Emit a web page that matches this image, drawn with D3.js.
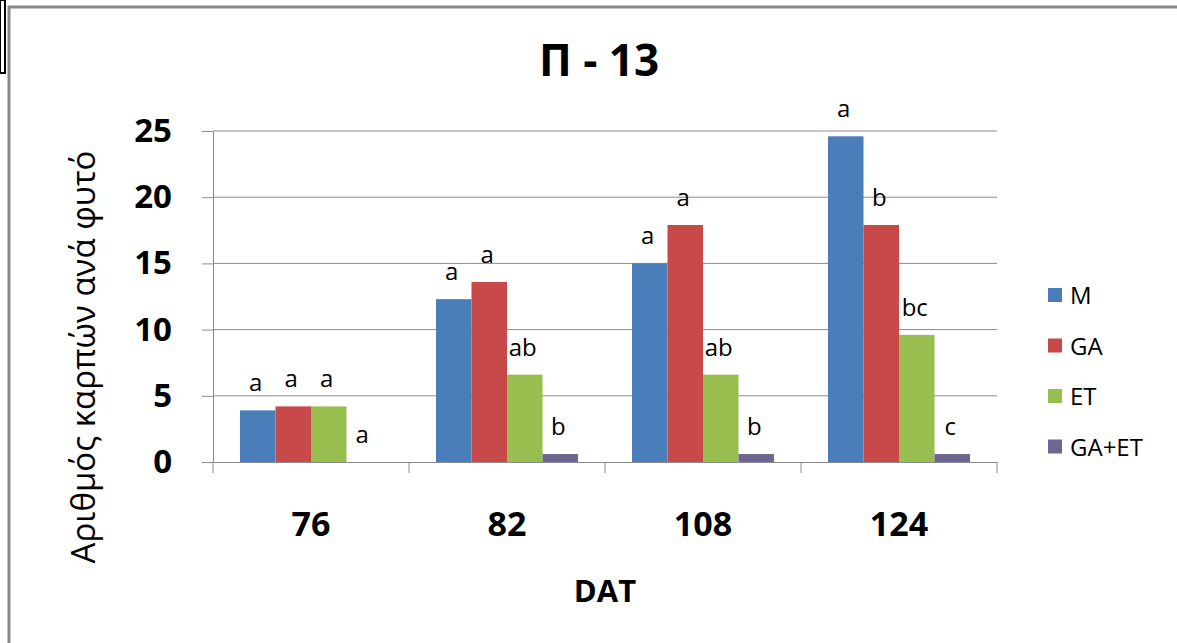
<!DOCTYPE html>
<html>
<head>
<meta charset="utf-8">
<script src="https://cdn.jsdelivr.net/npm/d3@7"></script>
<style>
  body { margin: 0; background: #fff; }
  svg text { font-family: "Open Sans", "DejaVu Sans", sans-serif; fill: #000; }
</style>
</head>
<body>
<div id="chart"></div>
<script>
// data
var days = ["76", "82", "108", "124"];
var series = ["M", "GA", "ET", "GA+ET"];
var valM = [3.9, 12.3, 15.0, 24.6];
var valGA = [4.2, 13.6, 17.9, 17.9];
var valET = [4.2, 6.6, 6.6, 9.6];
var valGAET = [0, 0.6, 0.6, 0.6];
var letM = ["a", "a", "a", "a"];
var letGA = ["a", "a", "a", "b"];
var letET = ["a", "ab", "ab", "bc"];
var letGAET = ["a", "b", "b", "c"];
var yTicks = [0, 5, 10, 15, 20, 25];
var colors = ["#4A7EBB", "#C8494A", "#98BE50", "#6E6690"];

function main() {
    var W = 1177, H = 643;
    var margin = {top: 131, right: 180, bottom: 181, left: 213},
        width = 997 - margin.left,
        height = 462 - margin.top;

    var svg = d3.select("#chart").append("svg")
        .attr("width", W)
        .attr("height", H);

    // outer frame of the chart object
    svg.append("rect")
        .attr("x", 9).attr("y", 7)
        .attr("width", W + 10).attr("height", H + 10)
        .attr("fill", "#fff")
        .attr("stroke", "#8a8a8a")
        .attr("stroke-width", 3);
    // the little black box on the left edge
    svg.append("rect")
        .attr("x", 0).attr("y", 0)
        .attr("width", 5).attr("height", 73)
        .attr("fill", "none")
        .attr("stroke", "#000")
        .attr("stroke-width", 2);

    svg.append("text")
        .attr("x", 599)
        .attr("y", 76)
        .attr("text-anchor", "middle")
        .attr("font-size", "44px")
        .attr("font-weight", "bold")
        .text("Π - 13");

    var g = svg.append("g")
        .attr("transform", "translate(" + margin.left + "," + margin.top + ")");

    var rows = days.map(function (d, i) {
        return {
            day: d,
            vals: [valM[i], valGA[i], valET[i], valGAET[i]],
            lets: [letM[i], letGA[i], letET[i], letGAET[i]]
        };
    });

    var x0 = d3.scaleBand().domain(days).range([0, width]).padding(0);
    var x1 = d3.scaleBand().domain(series).range([0, x0.bandwidth()])
        .paddingInner(0).paddingOuter(0.76);
    var y = d3.scaleLinear().domain([0, 25]).range([height, 0]);

    // gridlines
    g.append("g")
        .selectAll("line")
        .data(yTicks.slice(1))
        .join("line")
        .attr("x1", 0).attr("x2", width)
        .attr("y1", d => y(d)).attr("y2", d => y(d))
        .attr("stroke", "#8c8c8c")
        .attr("stroke-width", 1);

    // y axis
    var yAxis = g.append("g")
        .call(d3.axisLeft(y).tickValues(yTicks).tickSize(11).tickPadding(30));
    yAxis.select(".domain").attr("stroke", "#8c8c8c");
    yAxis.selectAll(".tick line").attr("stroke", "#8c8c8c");
    yAxis.selectAll("text")
        .attr("font-size", "33px")
        .attr("font-weight", "bold")
        .attr("font-family", "Open Sans")
        .attr("fill", "#000");

    // bars
    var groups = g.append("g")
        .selectAll("g")
        .data(rows)
        .join("g")
        .attr("transform", d => "translate(" + x0(d.day) + ",0)");

    groups.selectAll("rect")
        .data(d => d.vals.map((v, j) => ({s: series[j], v: v, j: j})))
        .join("rect")
        .attr("x", d => x1(d.s))
        .attr("width", x1.bandwidth())
        .attr("y", d => y(d.v))
        .attr("height", d => height - y(d.v))
        .attr("fill", d => colors[d.j]);

    groups.selectAll("text")
        .data(d => d.lets.map((l, j) => ({s: series[j], v: d.vals[j], l: l})))
        .join("text")
        .attr("x", d => x1(d.s) + x1.bandwidth() / 2 - 2)
        .attr("y", d => y(d.v) - 19)
        .attr("text-anchor", "middle")
        .attr("font-size", "24px")
        .text(d => d.l);

    // x axis
    var xAxis = g.append("g")
        .attr("transform", "translate(0," + height + ")")
        .call(d3.axisBottom(x0).tickSize(0).tickPadding(50));
    xAxis.select(".domain").attr("stroke", "#8c8c8c");
    xAxis.selectAll("text")
        .attr("font-size", "34px")
        .attr("font-weight", "bold")
        .attr("font-family", "Open Sans")
        .attr("fill", "#000");
    // category separators
    xAxis.append("g")
        .selectAll("line")
        .data(d3.range(days.length + 1))
        .join("line")
        .attr("x1", i => i * x0.step()).attr("x2", i => i * x0.step())
        .attr("y1", 0).attr("y2", 11)
        .attr("stroke", "#8c8c8c");

    svg.append("text")
        .attr("x", 605)
        .attr("y", 602)
        .attr("text-anchor", "middle")
        .attr("font-size", "31px")
        .attr("font-weight", "bold")
        .text("DAT");

    svg.append("text")
        .attr("transform", "translate(95,357) rotate(-90)")
        .attr("text-anchor", "middle")
        .attr("font-size", "33px")
        .text("Αριθμός καρπών ανά φυτό");

    // legend
    var legend = svg.append("g")
        .selectAll("g")
        .data(series)
        .join("g")
        .attr("transform", (d, i) => "translate(1048," + (288 + i * 50.5) + ")");
    legend.append("rect")
        .attr("width", 14).attr("height", 14)
        .attr("fill", (d, i) => colors[i]);
    legend.append("text")
        .attr("x", 22).attr("y", 16)
        .attr("font-size", "24px")
        .text(d => d);
}

main();
</script>
</body>
</html>
